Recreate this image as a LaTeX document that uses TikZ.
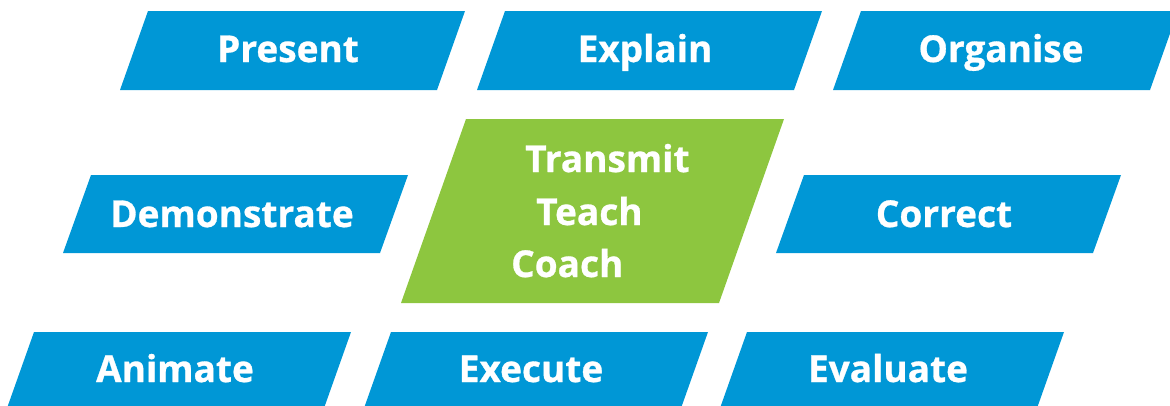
\documentclass[tikz,border=0pt]{standalone}
\usepackage{fontspec}
\usepackage{tikz}
\newfontfamily\boxfont{Open Sans}[BoldFeatures={FakeBold=0.8}]
\definecolor{boxblue}{RGB}{0,151,214}
\definecolor{boxgreen}{RGB}{141,198,63}
\tikzset{
  blue box/.style={fill=boxblue},
  green box/.style={fill=boxgreen},
  box text/.style={text=white, inner sep=0pt, anchor=base,
    font=\boxfont\bfseries\fontsize{37}{44}\selectfont}
}
\begin{document}
\begin{tikzpicture}[x=1pt, y=-1pt]
        \useasboundingbox (0,0) rectangle (1170,405);
        \clip (0,0) rectangle (1170,405);

        % top row
        \fill[blue box] (120,90) -- (437,90) -- (465,11) -- (148,11) -- cycle;
        \fill[blue box] (477,90) -- (794,90) -- (822,11) -- (505,11) -- cycle;
        \fill[blue box] (833,90) -- (1150,90) -- (1178,11) -- (861,11) -- cycle;
        \node[box text] (present) at (288,62) {Present};
        \node[box text] (explain) at (645,62) {Explain};
        \node[box text] (organise) at (1001,62) {Organise};

        % middle row
        \fill[blue box] (63,253) -- (380,253) -- (408,175) -- (91,175) -- cycle;
        \fill[green box] (401,303) -- (719,303) -- (784,119) -- (466,119) -- cycle;
        \fill[blue box] (776,253) -- (1093,253) -- (1121,175) -- (804,175) -- cycle;
        \node[box text] (demonstrate) at (232,227) {Demonstrate};
        \node[box text] (correct) at (944,227) {Correct};
        \node[box text, anchor=base west] (transmit) at (525,172) {Transmit};
        \node[box text, anchor=base west] (teach) at (536,225) {Teach};
        \node[box text, anchor=base west] (coach) at (511,277) {Coach};

        % bottom row
        \fill[blue box] (6,411) -- (323,411) -- (351,332) -- (34,332) -- cycle;
        \fill[blue box] (363,411) -- (680,411) -- (708,332) -- (391,332) -- cycle;
        \fill[blue box] (719,411) -- (1036,411) -- (1064,332) -- (747,332) -- cycle;
        \node[box text] (animate) at (175,382) {Animate};
        \node[box text] (execute) at (531,382) {Execute};
        \node[box text] (evaluate) at (888,382) {Evaluate};
      \end{tikzpicture}
\end{document}
